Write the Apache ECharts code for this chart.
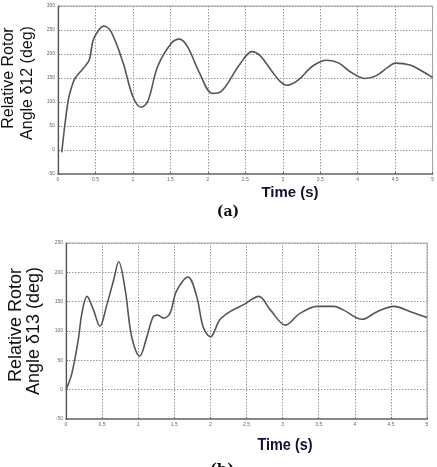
<!DOCTYPE html>
<html><head><meta charset="utf-8">
<script src="https://cdn.jsdelivr.net/npm/echarts@6/dist/echarts.min.js"></script>
<style>html,body{margin:0;padding:0;background:#fff}#c{width:437px;height:467px}</style>
</head><body><div id="c"></div>
<script>
// Chart (a): relative rotor angle delta12
const timeA  = [0.05,0.09,0.137,0.18,0.226,0.336,0.416,0.47,0.56,0.61,0.71,0.87,1.0,1.11,1.2,1.33,1.51,1.62,1.73,1.89,2.06,2.17,2.42,2.59,2.7,2.85,2.97,3.06,3.2,3.4,3.59,3.75,3.9,4.1,4.25,4.4,4.5,4.7,4.85,5.0];
const angle12 = [-5,50,104,130,149,170,187,229,253,258,246,181,111,89,102,174,222,231,215,160,118,121,177,205,196,165,142,135,145,175,187,181,163,149,155,172,181,177,165,151];
// Chart (b): relative rotor angle delta13
const timeB  = [0,0.08,0.17,0.22,0.29,0.38,0.47,0.56,0.66,0.73,0.82,0.91,1.02,1.12,1.21,1.27,1.35,1.44,1.53,1.69,1.81,1.90,2.0,2.13,2.27,2.46,2.67,2.83,3.04,3.24,3.48,3.71,3.84,4.1,4.31,4.54,4.77,5.0];
const angle13 = [0,27,85,130,159,136,108,142,187,218,170,90,57,90,125,127,122,130,168,192,159,107,90,119,133,145,159,136,110,130,142,142,136,120,133,142,133,123];
const xTicks = {min:0,max:5,interval:0.5};
const yTicks = {min:-50,max:300,interval:50};

const pairs = (t,v)=>t.map((x,i)=>[x,v[i]]);
const axisLbl = {fontSize:5,color:'#666',margin:3,fontFamily:'Liberation Sans'};
const split = {show:true,lineStyle:{type:[1.5,1.5],color:'#999',width:1}};
function xAx(g){return {type:'value',gridIndex:g,min:xTicks.min,max:xTicks.max,interval:xTicks.interval,
  axisLine:{show:true,onZero:false,lineStyle:{color:'#888',width:2}},axisTick:{show:true,inside:true,length:2,lineStyle:{color:'#666'}},
  axisLabel:Object.assign({},axisLbl,{formatter:v=>String(v)}),splitLine:split};}
function yAx(g,max){return {type:'value',gridIndex:g,min:yTicks.min,max:max,interval:yTicks.interval,
  axisLine:{show:true,onZero:false,lineStyle:{color:'#555',width:1.2}},axisTick:{show:true,inside:true,length:2,lineStyle:{color:'#666'}},
  axisLabel:axisLbl,splitLine:split};}

const serif = 'DejaVu Serif';
const chart = echarts.init(document.getElementById('c'),null,{renderer:'canvas'});
chart.setOption({
  animation:false,
  backgroundColor:'#fff',
  grid:[
    {left:58,top:6,width:376,height:168,show:true,borderColor:'#aaa',borderWidth:1},
    {left:66,top:243,width:361,height:176,show:true,borderColor:'#aaa',borderWidth:1}
  ],
  xAxis:[xAx(0),xAx(1)],
  yAxis:[yAx(0,300),yAx(1,250)],
  series:[
    {type:'line',xAxisIndex:0,yAxisIndex:0,data:pairs(timeA,angle12),smooth:0.35,showSymbol:false,
     lineStyle:{color:'#555',width:1.6}},
    {type:'line',xAxisIndex:1,yAxisIndex:1,data:pairs(timeB,angle13),smooth:0.35,showSymbol:false,
     lineStyle:{color:'#555',width:1.6}}
  ],
  graphic:[
    {type:'text',x:9,y:78,rotation:Math.PI/2,style:{text:'Relative Rotor',fontSize:16,fontFamily:'Liberation Sans',fill:'#111',align:'center',verticalAlign:'middle'}},
    {type:'text',x:28,y:83,rotation:Math.PI/2,style:{text:'Angle δ12 (deg)',fontSize:16,fontFamily:'Liberation Sans',fill:'#111',align:'center',verticalAlign:'middle'}},
    {type:'text',x:290,y:193,style:{text:'Time (s)',fontSize:15,fontWeight:'bold',fontFamily:'Liberation Sans',fill:'#111133',align:'center',verticalAlign:'middle'}},
    {type:'text',x:228,y:212,style:{text:'(a)',fontSize:14,fontWeight:'bold',fontFamily:serif,fill:'#111',align:'center',verticalAlign:'middle'}},
    {type:'text',x:16,y:325,rotation:Math.PI/2,style:{text:'Relative Rotor',fontSize:18,fontFamily:'Liberation Sans',fill:'#111',align:'center',verticalAlign:'middle'}},
    {type:'text',x:34,y:331,rotation:Math.PI/2,style:{text:'Angle δ13 (deg)',fontSize:18,fontFamily:'Liberation Sans',fill:'#111',align:'center',verticalAlign:'middle'}},
    {type:'text',x:285,y:445,scaleX:0.85,style:{text:'Time (s)',fontSize:17,fontWeight:'bold',fontFamily:'Liberation Sans',fill:'#111133',align:'center',verticalAlign:'middle'}},
    {type:'text',x:222,y:470,style:{text:'(b)',fontSize:15,fontWeight:'bold',fontFamily:serif,fill:'#111',align:'center',verticalAlign:'middle'}}
  ]
});
</script></body></html>
